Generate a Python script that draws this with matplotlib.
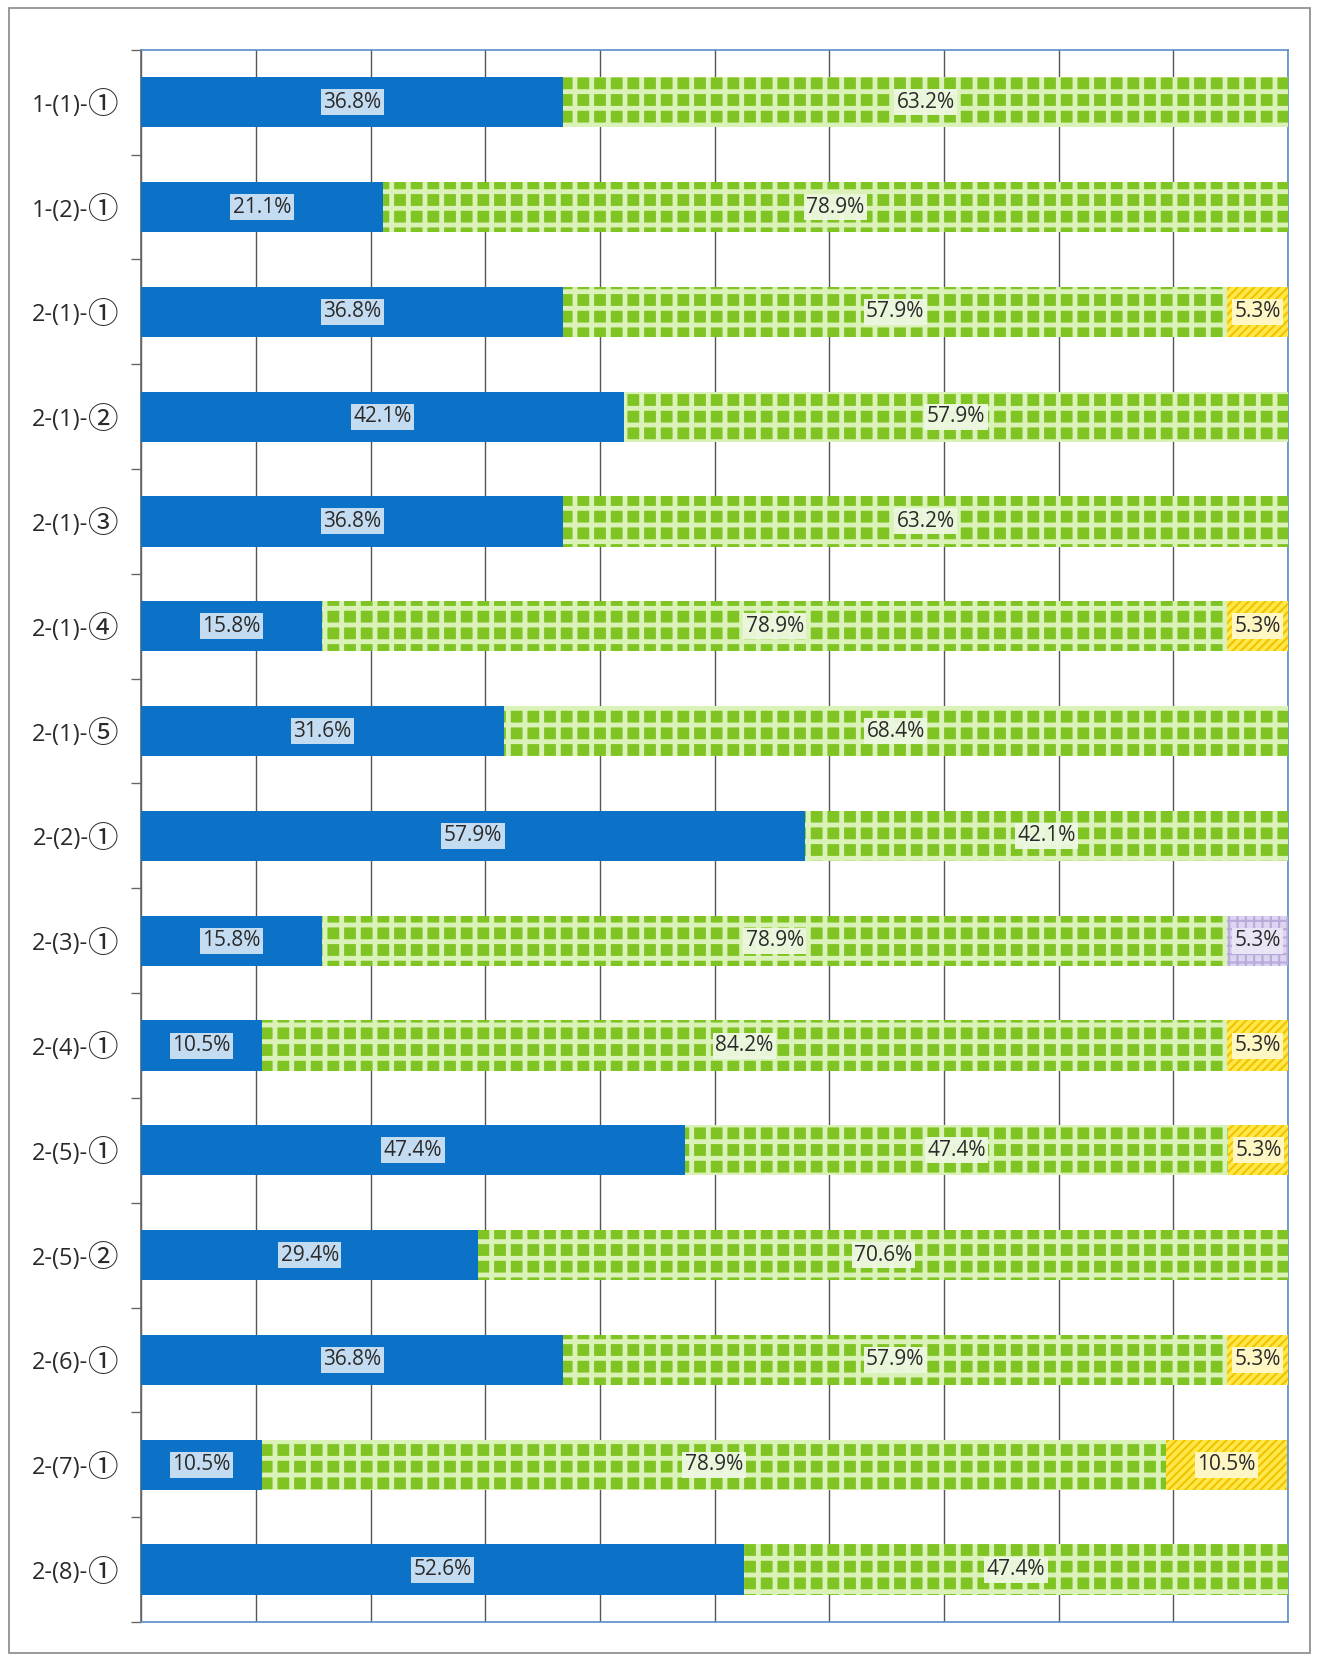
import matplotlib.pyplot as plt
import matplotlib.patches as mpatches
from matplotlib.offsetbox import TextArea, HPacker, AnnotationBbox
import numpy as np

plt.rcParams['font.family'] = ['Open Sans', 'DejaVu Sans']

# categories (top to bottom)
cats = ['1-(1)-①', '1-(2)-①', '2-(1)-①', '2-(1)-②', '2-(1)-③', '2-(1)-④',
        '2-(1)-⑤', '2-(2)-①', '2-(3)-①', '2-(4)-①', '2-(5)-①', '2-(5)-②',
        '2-(6)-①', '2-(7)-①', '2-(8)-①']

# series values, percent
blue   = [36.8, 21.1, 36.8, 42.1, 36.8, 15.8, 31.6, 57.9, 15.8, 10.5, 47.4, 29.4, 36.8, 10.5, 52.6]
green  = [63.2, 78.9, 57.9, 57.9, 63.2, 78.9, 68.4, 42.1, 78.9, 84.2, 47.4, 70.6, 57.9, 78.9, 47.4]
yellow = [0, 0, 5.3, 0, 0, 5.3, 0, 0, 0, 5.3, 5.3, 0, 5.3, 10.5, 0]
purple = [0, 0, 0, 0, 0, 0, 0, 0, 5.3, 0, 0, 0, 0, 0, 0]

# face colour, hatch, hatch colour, label box colour
styles = [
    ('#0B72C8', None, None, '#CFE3F5'),
    ('#80C424', '+', '#DAF1B8', '#EEF8E2'),
    ('#FFE94A', '////', '#F2C200', '#FFF8CC'),
    ('#DCD4F0', '++', '#B8AADB', '#ECE8F7'),
]
series = [blue, green, yellow, purple]

fig = plt.figure(figsize=(13.19, 16.61), dpi=100)
ax = fig.add_axes([0.107, 0.0235, 0.8695, 0.9465])

y = np.arange(len(cats))
h = 0.48
left = np.zeros(len(cats))
for vals, (fc, hatch, hc, bc) in zip(series, styles):
    vals = np.array(vals)
    ax.barh(y, vals, h, left=left, color=fc, linewidth=0, zorder=3)
    if hatch:
        lw_h = 3.5 if hatch == '+' else 1.5
        with plt.rc_context({'hatch.linewidth': lw_h}):
            ax.barh(y, vals, h, left=left, color='none', edgecolor=hc,
                    hatch=hatch, linewidth=0, zorder=4)
    for i in range(len(cats)):
        if vals[i] > 0:
            ax.text(left[i] + vals[i] / 2, y[i], f'{vals[i]:.1f}%',
                    ha='center', va='center', fontsize=15, color='#2a2a2a',
                    zorder=6,
                    bbox=dict(boxstyle='square,pad=0.12', fc=bc, ec='none', alpha=0.95))
    left = left + vals

ax.set_xlim(0, 100)
ax.set_ylim(len(cats) - 0.5, -0.5)
ax.set_xticks(np.arange(0, 101, 10))
ax.set_xticklabels([])
ax.tick_params(axis='x', length=0)
ax.grid(axis='x', color='#555555', linewidth=1.0, zorder=0)
ax.set_yticks(y)
ax.set_yticklabels([])
ax.set_yticks(np.arange(-0.5, len(cats), 1), minor=True)
ax.tick_params(axis='y', which='major', length=0)
ax.tick_params(axis='y', which='minor', length=7, width=1, color='#666666', direction='out')
for s in ['top', 'right', 'bottom']:
    ax.spines[s].set_color('#5B8CC8')
    ax.spines[s].set_linewidth(1.2)
ax.spines['left'].set_color('#666666')
ax.spines['left'].set_linewidth(1.2)

# category labels: circled digit drawn larger, as in the original
for i, c in enumerate(cats):
    head = TextArea(c[:-1], textprops=dict(fontsize=17, color='#2a2a2a'))
    circ = TextArea(c[-1], textprops=dict(fontsize=22, color='#2a2a2a',
                                          family=['Noto Sans CJK JP', 'DejaVu Sans']))
    box = HPacker(children=[head, circ], align='center', pad=0, sep=0)
    ab = AnnotationBbox(box, (0, y[i]), xycoords=('axes fraction', 'data'),
                        xybox=(-16, -2.5), boxcoords='offset points',
                        box_alignment=(1, 0.5), frameon=False, annotation_clip=False)
    ax.add_artist(ab)

# outer frame
fig.patches.append(mpatches.Rectangle((0.007, 0.005), 0.986, 0.99, transform=fig.transFigure,
                                      fill=False, ec='#888888', lw=1.2))

fig.savefig('out.png', dpi=100)
